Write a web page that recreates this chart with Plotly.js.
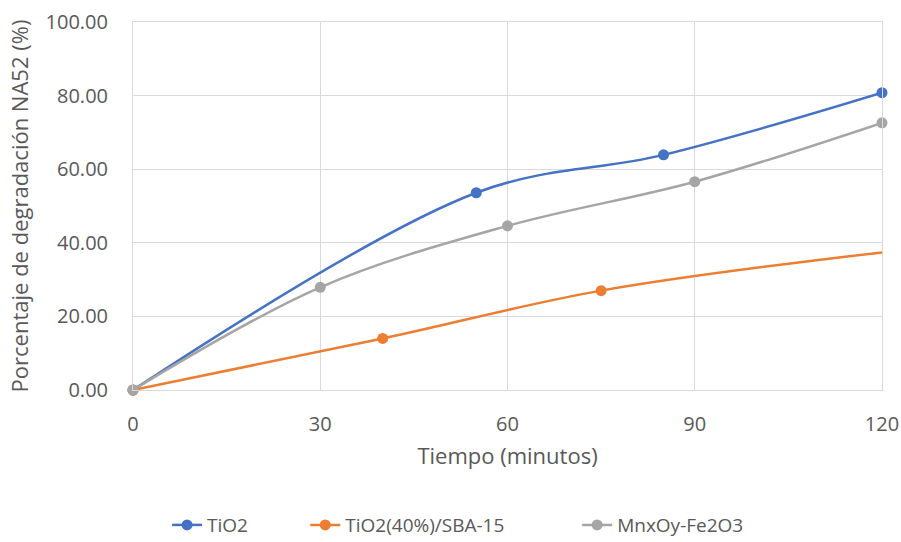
<!DOCTYPE html>
<html>
<head>
<meta charset="utf-8">
<script src="https://cdn.plot.ly/plotly-3.0.1.min.js"></script>
<style>html,body{margin:0;padding:0;background:#fff;}#chart{width:901px;height:542px;}</style>
</head>
<body>
<div id="chart"></div>
<script>
const seriesNames = ["TiO2", "TiO2(40%)/SBA-15", "MnxOy-Fe2O3"];
const tio2X = [0, 55, 85, 120];
const tio2Y = [0, 53.6, 63.9, 80.8];
const sbaX = [0, 40, 75, 120];
const sbaY = [0, 14.0, 27.0, 37.4];
const mnX = [0, 30, 60, 90, 120];
const mnY = [0, 27.9, 44.6, 56.6, 72.6];
const xTicks = [0, 30, 60, 90, 120];
const yTicks = [0, 20, 40, 60, 80, 100];
const yTickLabels = ["0.00", "20.00", "40.00", "60.00", "80.00", "100.00"];
const xTitle = "Tiempo (minutos)";
const yTitle = "Porcentaje de degradación NA52 (%)";

const colors = ["#4472C4", "#ED7D31", "#A5A5A5"];
const legendIds = ["legend", "legend2", "legend3"];
function tr(x, y, i) {
  return {
    x: x, y: y, name: seriesNames[i], type: "scatter", mode: "lines+markers",
    line: {color: colors[i], width: 2.5, shape: "spline", smoothing: 1},
    marker: {color: colors[i], size: 11},
    cliponaxis: false, legend: legendIds[i]
  };
}
const orange = tr(sbaX, sbaY, 1);
orange.selectedpoints = [0, 1, 2];
orange.selected = {marker: {opacity: 1}};
orange.unselected = {marker: {opacity: 0}};
const data = [tr(tio2X, tio2Y, 0), orange, tr(mnX, mnY, 2)];
const txt = "#595959";
function leg(x) {
  return {orientation: "h", x: x, xanchor: "left", y: -0.367, yanchor: "middle",
          font: {size: 19, color: txt}, bgcolor: "rgba(0,0,0,0)"};
}
const layout = {
  width: 901, height: 542,
  margin: {l: 133, r: 19, t: 22, b: 152, autoexpand: false},
  paper_bgcolor: "#fff", plot_bgcolor: "#fff",
  font: {family: "Open Sans, sans-serif", color: txt, size: 20},
  showlegend: true,
  legend: leg(0.0455),
  legend2: leg(0.2300),
  legend3: leg(0.5930),
  xaxis: {
    range: [0, 120], tickvals: xTicks, ticktext: xTicks.map(String),
    showgrid: true, gridcolor: "#d9d9d9", gridwidth: 1,
    showline: true, linecolor: "#d9d9d9", mirror: true, zeroline: false,
    ticks: "", ticklabelstandoff: 16, tickfont: {size: 20, color: txt},
    title: {text: xTitle, font: {size: 22, color: txt}, standoff: 12}
  },
  yaxis: {
    range: [0, 100], tickvals: yTicks, ticktext: yTickLabels,
    showgrid: true, gridcolor: "#d9d9d9", gridwidth: 1,
    showline: true, linecolor: "#d9d9d9", mirror: true, zeroline: false,
    ticks: "", ticklabelstandoff: 20, tickfont: {size: 20, color: txt},
    title: {text: yTitle, font: {size: 22, color: txt}, standoff: 10}
  }
};
Plotly.newPlot("chart", data, layout, {displayModeBar: false, staticPlot: true});
</script>
</body>
</html>
